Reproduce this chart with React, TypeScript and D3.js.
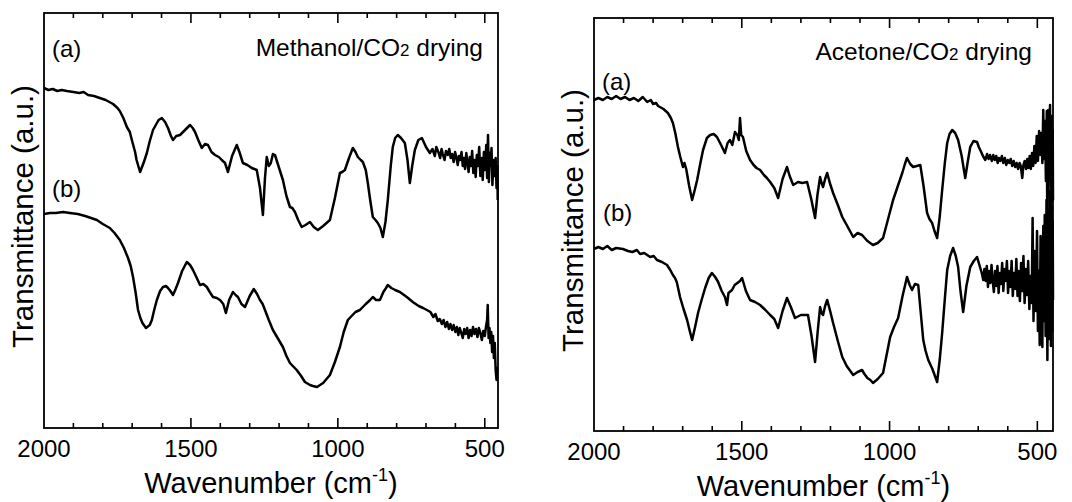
import React from "react";
import * as d3 from "d3";

// Wavenumber (cm-1), transmittance (a.u.)
const methanolA: [number, number][] = [
  [2000, 340], [1985, 338], [1970, 339], [1955, 337], [1940, 338], [1922, 337], [1900, 336], [1880, 335], [1865, 336],
  [1850, 333], [1830, 332], [1810, 330], [1790, 328], [1765, 324], [1750, 320], [1742, 317], [1730, 310], [1718, 301],
  [1708, 296], [1701, 288], [1690, 276], [1685, 268], [1673, 256], [1660, 266], [1650, 275], [1640, 287], [1629, 298],
  [1610, 308], [1599, 310], [1588, 306], [1578, 300], [1568, 292], [1561, 288], [1550, 292], [1537, 293], [1520, 298],
  [1503, 303], [1494, 300], [1486, 296], [1475, 288], [1463, 280], [1452, 284], [1442, 283], [1430, 276], [1418, 273],
  [1405, 271], [1395, 268], [1384, 265], [1374, 256], [1360, 272], [1344, 283], [1335, 276], [1323, 265], [1308, 263],
  [1293, 260], [1276, 258], [1265, 240], [1255, 213], [1248, 250], [1242, 271], [1235, 262], [1228, 265], [1221, 274],
  [1214, 273], [1200, 260], [1187, 248], [1175, 232], [1163, 221], [1155, 220], [1146, 216], [1135, 208], [1123, 201],
  [1110, 203], [1095, 206], [1082, 201], [1068, 198], [1050, 202], [1027, 208], [1010, 230], [993, 255], [985, 256],
  [976, 258], [962, 270], [949, 280], [940, 276], [932, 271], [922, 268], [915, 266], [905, 258], [898, 245], [890, 228],
  [881, 211], [872, 208], [864, 205], [855, 200], [847, 191], [838, 206], [830, 228], [820, 262], [813, 281], [805, 290],
  [796, 293], [785, 290], [772, 285], [763, 268], [755, 245], [747, 262], [738, 278], [726, 288], [714, 290], [700, 281],
  [687, 275], [678, 279], [670, 272], [665, 281], [658, 276], [652, 270], [647, 279], [643, 274], [637, 268], [632, 277],
  [626, 273], [621, 279], [616, 270], [611, 274], [606, 266], [601, 276], [597, 271], [592, 263], [588, 272], [584, 268],
  [579, 276], [575, 262], [571, 270], [567, 259], [563, 275], [559, 266], [555, 256], [551, 271], [547, 262], [543, 277],
  [539, 255], [535, 268], [531, 251], [527, 273], [523, 262], [519, 281], [515, 252], [511, 270], [507, 248], [503, 276],
  [499, 258], [495, 283], [492, 250], [489, 293], [486, 246], [483, 275], [480, 262], [477, 280], [474, 243], [470, 268],
  [467, 252], [463, 270], [460, 240], [457, 262], [456, 228],
];

const methanolB: [number, number][] = [
  [2000, 214], [1980, 215], [1960, 215], [1935, 216], [1912, 215], [1885, 214], [1860, 212], [1840, 210], [1820, 208],
  [1800, 204], [1776, 200], [1760, 195], [1742, 188], [1728, 180], [1714, 170], [1705, 162], [1697, 151], [1688, 135],
  [1680, 118], [1672, 110], [1665, 105], [1653, 100], [1640, 103], [1633, 108], [1625, 118], [1616, 128], [1605, 137],
  [1595, 141], [1585, 142], [1578, 140], [1570, 137], [1561, 133], [1552, 139], [1544, 145], [1530, 157], [1514, 166],
  [1503, 163], [1493, 158], [1480, 150], [1469, 143], [1458, 144], [1446, 141], [1436, 136], [1425, 131], [1412, 130],
  [1401, 128], [1390, 124], [1381, 115], [1370, 128], [1357, 136], [1348, 133], [1340, 131], [1328, 124], [1316, 121],
  [1300, 132], [1286, 139], [1275, 134], [1265, 128], [1256, 124], [1248, 118], [1235, 108], [1221, 98], [1205, 90],
  [1187, 81], [1175, 72], [1163, 65], [1150, 61], [1140, 58], [1125, 52], [1112, 46], [1095, 43], [1085, 42], [1071, 41],
  [1050, 45], [1027, 53], [1010, 66], [993, 81], [980, 96], [966, 108], [950, 113], [940, 116], [925, 118], [905, 124],
  [890, 128], [881, 131], [870, 128], [857, 128], [845, 136], [836, 140], [830, 143], [818, 140], [805, 138], [789, 136],
  [770, 132], [757, 129], [745, 126], [725, 122], [710, 120], [697, 118], [685, 116], [675, 111], [668, 114], [660, 107],
  [653, 109], [646, 104], [640, 108], [634, 101], [628, 106], [622, 99], [617, 104], [611, 98], [606, 103], [600, 96],
  [595, 101], [590, 93], [585, 100], [580, 95], [575, 90], [570, 99], [565, 94], [560, 100], [555, 90], [550, 98],
  [545, 92], [540, 101], [535, 94], [530, 99], [525, 91], [520, 100], [515, 95], [510, 88], [505, 97], [500, 92],
  [496, 101], [492, 108], [490, 123], [487, 90], [484, 100], [481, 85], [478, 96], [475, 76], [472, 92], [469, 70],
  [466, 85], [463, 58], [460, 48], [458, 60], [456, 58],
];

const acetoneA: [number, number][] = [
  [2000, 331], [1985, 333], [1970, 331], [1955, 334], [1940, 332], [1925, 335], [1910, 332], [1895, 334], [1880, 331],
  [1865, 333], [1850, 330], [1835, 334], [1820, 329], [1808, 331], [1800, 327], [1790, 328], [1783, 325], [1765, 322],
  [1750, 318], [1740, 313], [1733, 308], [1725, 298], [1716, 284], [1708, 274], [1699, 264], [1694, 268], [1688, 262],
  [1678, 245], [1668, 231], [1660, 240], [1651, 251], [1640, 268], [1631, 281], [1618, 293], [1607, 296], [1595, 297],
  [1584, 294], [1570, 286], [1557, 278], [1548, 288], [1540, 291], [1532, 286], [1523, 299], [1515, 296], [1510, 291],
  [1506, 313], [1502, 296], [1496, 294], [1485, 280], [1472, 271], [1460, 266], [1450, 263], [1438, 261], [1425, 256],
  [1415, 253], [1404, 249], [1390, 243], [1377, 233], [1362, 252], [1347, 264], [1338, 255], [1326, 246], [1310, 249],
  [1295, 248], [1279, 249], [1265, 232], [1252, 213], [1244, 236], [1235, 254], [1230, 248], [1225, 244], [1218, 252],
  [1211, 258], [1202, 248], [1191, 238], [1175, 226], [1160, 214], [1145, 206], [1123, 194], [1108, 198], [1093, 196],
  [1075, 190], [1056, 186], [1040, 188], [1022, 193], [1005, 212], [988, 231], [972, 245], [957, 258], [948, 267],
  [941, 273], [930, 267], [920, 264], [908, 265], [896, 266], [885, 245], [873, 218], [865, 212], [856, 208], [848, 200],
  [839, 193], [830, 215], [822, 241], [813, 268], [805, 288], [797, 297], [788, 301], [778, 298], [768, 291], [756, 275],
  [744, 253], [735, 270], [727, 284], [716, 290], [704, 289], [698, 284], [690, 279], [684, 275], [676, 271], [670, 277],
  [665, 272], [660, 276], [654, 270], [649, 276], [644, 271], [639, 275], [634, 268], [630, 273], [625, 270], [620, 275],
  [615, 268], [610, 273], [605, 266], [600, 271], [595, 268], [590, 272], [585, 265], [580, 270], [575, 264], [570, 268],
  [565, 262], [560, 268], [556, 265], [551, 253], [547, 266], [543, 270], [538, 262], [534, 272], [530, 263], [526, 275],
  [522, 262], [518, 278], [514, 265], [510, 285], [506, 268], [502, 295], [498, 270], [494, 300], [490, 276], [486, 298],
  [483, 268], [480, 321], [477, 272], [474, 310], [471, 250], [468, 320], [466, 181], [463, 321], [460, 251], [457, 326],
  [455, 191], [452, 315], [450, 230], [448, 301], [447, 231],
];

const acetoneB: [number, number][] = [
  [2000, 182], [1985, 184], [1970, 182], [1955, 185], [1940, 181], [1925, 183], [1902, 182], [1885, 180], [1870, 179],
  [1855, 181], [1844, 177], [1830, 178], [1810, 174], [1798, 175], [1787, 171], [1770, 169], [1753, 166], [1742, 161],
  [1733, 156], [1726, 153], [1720, 149], [1714, 141], [1709, 134], [1697, 122], [1685, 111], [1676, 100], [1668, 91],
  [1658, 104], [1648, 118], [1636, 131], [1624, 143], [1612, 153], [1601, 158], [1590, 154], [1580, 149], [1568, 140],
  [1557, 134], [1550, 126], [1545, 138], [1533, 141], [1524, 146], [1515, 148], [1506, 150], [1499, 153], [1486, 140],
  [1472, 131], [1455, 129], [1438, 126], [1420, 121], [1404, 116], [1390, 112], [1377, 103], [1362, 120], [1347, 133],
  [1334, 124], [1320, 113], [1300, 116], [1276, 116], [1264, 95], [1252, 69], [1243, 100], [1235, 124], [1230, 118],
  [1225, 116], [1218, 125], [1211, 131], [1201, 120], [1191, 108], [1175, 90], [1160, 74], [1145, 65], [1123, 56],
  [1108, 59], [1093, 61], [1085, 57], [1075, 53], [1065, 51], [1056, 48], [1040, 52], [1022, 58], [1010, 76], [998, 94],
  [985, 104], [971, 113], [956, 135], [941, 154], [932, 146], [924, 141], [914, 147], [903, 146], [895, 120], [886, 91],
  [878, 80], [869, 71], [855, 62], [839, 49], [830, 72], [822, 98], [813, 132], [805, 161], [795, 175], [785, 183],
  [776, 175], [768, 164], [760, 140], [751, 119], [740, 145], [727, 164], [715, 170], [704, 174], [695, 165], [688, 158],
  [683, 151], [679, 162], [675, 150], [671, 165], [667, 144], [663, 160], [659, 148], [655, 166], [651, 150], [647, 139],
  [643, 160], [639, 145], [635, 165], [631, 138], [627, 158], [623, 147], [619, 168], [615, 140], [611, 162], [607, 150],
  [603, 170], [599, 138], [595, 160], [591, 144], [587, 170], [583, 135], [579, 158], [575, 142], [571, 172], [567, 135],
  [563, 160], [559, 130], [555, 168], [551, 140], [547, 175], [543, 128], [539, 162], [535, 136], [531, 170], [527, 122],
  [523, 155], [519, 128], [516, 213], [513, 110], [509, 180], [505, 120], [501, 200], [498, 100], [495, 160], [492, 86],
  [489, 195], [486, 120], [483, 84], [480, 205], [477, 110], [475, 216], [472, 95], [469, 231], [466, 71], [463, 221],
  [460, 92], [457, 240], [454, 85], [452, 225], [450, 100], [448, 210], [447, 131],
];

const tickMajor = [1500, 1000, 500];
const tickLabels = ["2000", "1500", "1000", "500"];
const tickLabelValues = [2000, 1500, 1000, 500];

const FONT = "'Liberation Sans', Arial, Helvetica, sans-serif";

type PanelProps = {
  left: number; right: number; top: number; bottom: number;
  xMin: number; yMax: number;
  a: [number, number][]; b: [number, number][];
  title: string;
  labelA: [number, number]; labelB: [number, number];
  titleBaseline: number; titleRight: number;
  yLabelX: number;
};

function Panel(p: PanelProps) {
  const x = d3.scaleLinear().domain([2000, p.xMin]).range([p.left, p.right]);
  const y = d3.scaleLinear().domain([0, p.yMax]).range([p.bottom, p.top]);
  const line = d3.line<[number, number]>().x((d) => x(d[0])).y((d) => y(d[1]));
  const minor = d3.range(1900, p.xMin, -100).filter((v) => !tickMajor.includes(v));
  const cx = (p.left + p.right) / 2;
  const cy = (p.top + p.bottom) / 2 - 4;
  const [mainT, restT] = p.title.split("CO2");
  return (
    <g>
      <rect x={p.left} y={p.top} width={p.right - p.left} height={p.bottom - p.top} fill="none" stroke="#000" strokeWidth={1.8} />
      {minor.map((v) => (
        <g key={"m" + v}>
          <line x1={x(v)} x2={x(v)} y1={p.bottom} y2={p.bottom - 5} stroke="#000" strokeWidth={1.6} />
          <line x1={x(v)} x2={x(v)} y1={p.top} y2={p.top + 5} stroke="#000" strokeWidth={1.6} />
        </g>
      ))}
      {tickMajor.map((v) => (
        <g key={"M" + v}>
          <line x1={x(v)} x2={x(v)} y1={p.bottom} y2={p.bottom - 10} stroke="#000" strokeWidth={1.6} />
          <line x1={x(v)} x2={x(v)} y1={p.top} y2={p.top + 10} stroke="#000" strokeWidth={1.6} />
        </g>
      ))}
      {tickLabelValues.map((v, i) => (
        <text key={"l" + v} x={x(v)} y={p.bottom + 29} textAnchor="middle" fontSize={24} fontFamily={FONT} fill="#000">
          {tickLabels[i]}
        </text>
      ))}
      <text x={cx} y={p.bottom + 65} textAnchor="middle" fontSize={29} fontFamily={FONT} fill="#000">
        Wavenumber (cm<tspan dy={-12} fontSize={18}>-1</tspan><tspan dy={12}>)</tspan>
      </text>
      <text transform={`translate(${p.yLabelX},${cy}) rotate(-90)`} textAnchor="middle" fontSize={29.5} fontFamily={FONT} fill="#000">
        Transmittance (a.u.)
      </text>
      <path d={line(p.a) || ""} fill="none" stroke="#000" strokeWidth={2.5} strokeLinejoin="round" />
      <path d={line(p.b) || ""} fill="none" stroke="#000" strokeWidth={2.5} strokeLinejoin="round" />
      <text x={p.labelA[0]} y={p.labelA[1]} fontSize={24} fontFamily={FONT} fill="#000">(a)</text>
      <text x={p.labelB[0]} y={p.labelB[1]} fontSize={24} fontFamily={FONT} fill="#000">(b)</text>
      <text x={p.right - p.titleRight} y={p.titleBaseline} textAnchor="end" fontSize={24.5} fontFamily={FONT} fill="#000">
        {mainT}CO<tspan fontSize={17}>2</tspan>{restT}
      </text>
    </g>
  );
}

export default function App() {
  return (
    <svg width={1072} height={502} style={{ position: "absolute", left: 0, top: 0, background: "#fff" }}>
      <rect width={1072} height={502} fill="#fff" />
      <Panel left={44} right={498} top={13} bottom={428} xMin={455} yMax={415}
        a={methanolA} b={methanolB} title="Methanol/CO2 drying"
        labelA={[52, 57]} labelB={[52, 197]} titleBaseline={56} titleRight={15} yLabelX={33} />
      <Panel left={594} right={1053} top={18} bottom={431} xMin={447} yMax={413}
        a={acetoneA} b={acetoneB} title="Acetone/CO2 drying"
        labelA={[602, 90]} labelB={[603, 221]} titleBaseline={60} titleRight={21} yLabelX={583} />
    </svg>
  );
}
